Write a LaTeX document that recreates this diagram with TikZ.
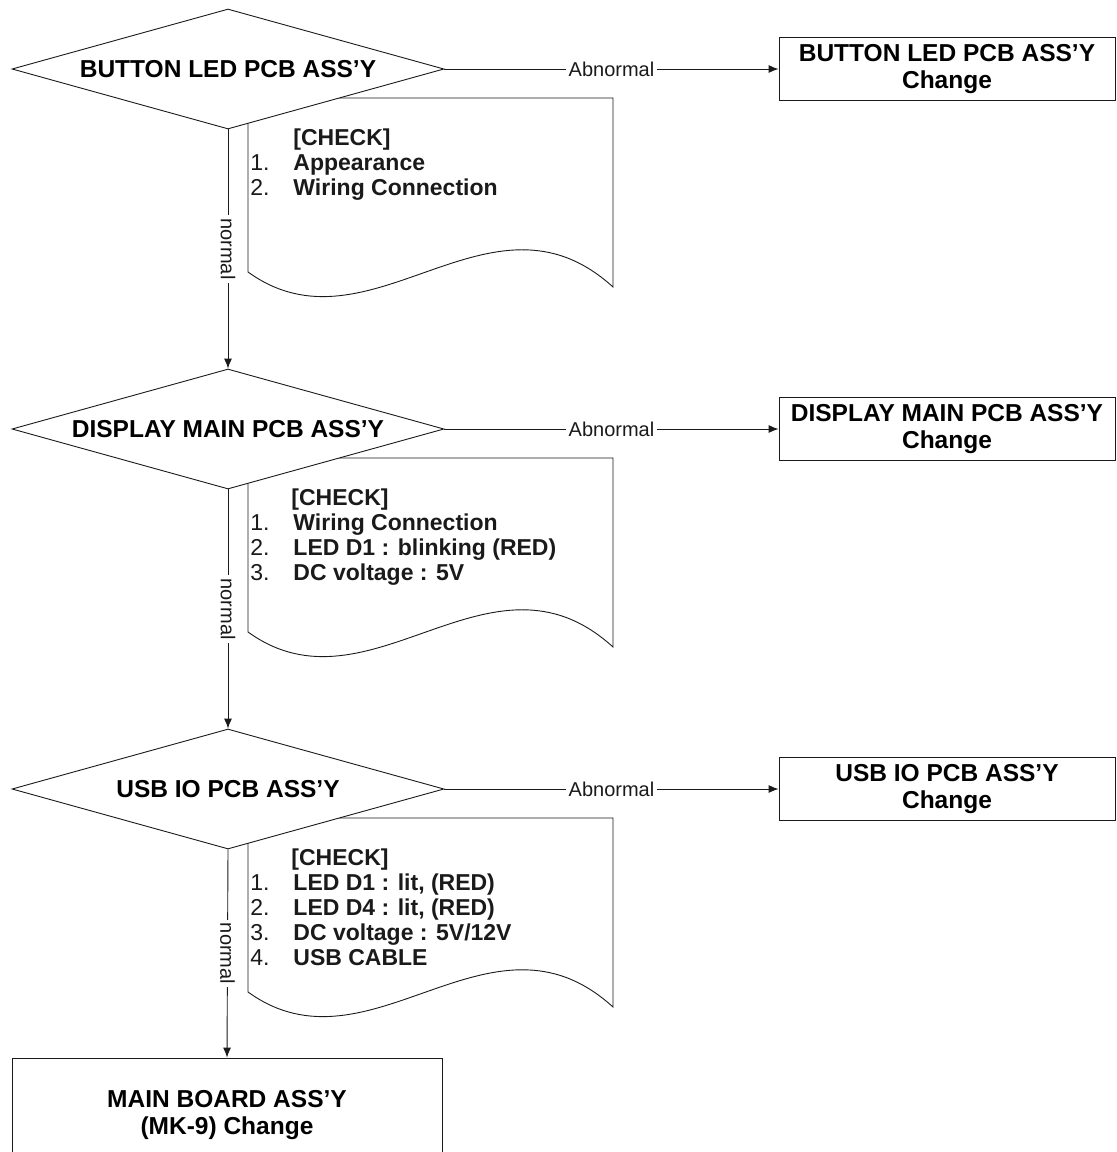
\documentclass[tikz,border=0pt]{standalone}
\usepackage{fontspec}
\setmainfont{Liberation Sans}
\usetikzlibrary{shapes.geometric,arrows.meta}
\definecolor{ink}{HTML}{1A1A1A}
\newcommand{\chkno}[1]{\makebox[43pt][l]{#1}}

\begin{document}
\begin{tikzpicture}[x=1pt,y=-1pt,line width=0.9pt,
    testbox/.style={diamond,aspect=3.6,draw=ink,fill=white,minimum width=432pt,minimum height=120pt,inner sep=0pt,font=\fontsize{24.5}{28}\selectfont\bfseries},
    swapbox/.style={rectangle,draw=ink,fill=white,minimum width=336pt,minimum height=63pt,align=center,font=\fontsize{24.5}{27}\selectfont\bfseries},
    checklist/.style={anchor=north west,align=left,inner sep=0pt,text=ink,font=\fontsize{23}{25}\selectfont},
    flowlabel/.style={fill=white,inner sep=3pt,text=ink,font=\fontsize{20}{20}\selectfont},
    >={Latex[length=10pt,width=8pt]}]
        \useasboundingbox (0,0) rectangle (1117,1152);
        % check sheets
        \foreach \dy in {0,360,720}
          \draw[ink,fill=white] (248,98+\dy) -- (613,98+\dy) -- (613,287+\dy) .. controls (490,175+\dy) and (370,360+\dy) .. (248,272+\dy) -- cycle;
        % tests
        \node[testbox] (btn) at (228,69) {BUTTON LED PCB ASS'Y};
        \node[testbox] (disp) at (228,429) {DISPLAY MAIN PCB ASS'Y};
        \node[testbox] (usb) at (228,789) {USB IO PCB ASS'Y};
        % parts to change
        \node[swapbox] (btnchg) at (947,69) {BUTTON LED PCB ASS'Y\\Change};
        \node[swapbox] (dispchg) at (947,429) {DISPLAY MAIN PCB ASS'Y\\Change};
        \node[swapbox] (usbchg) at (947,789) {USB IO PCB ASS'Y\\Change};
        \node[swapbox,minimum width=430pt,minimum height=114pt] (mainchg) at (227,1115) {MAIN BOARD ASS'Y\\(MK-9) Change};
        % check items
        \node[checklist] (chk1) at (250,128) {\hspace*{43pt}\textbf{[CHECK]}\\
          \chkno{1.}\textbf{Appearance}\\
          \chkno{2.}\textbf{Wiring Connection}};
        \node[checklist] (chk2) at (250,488) {\hspace*{41pt}\textbf{[CHECK]}\\
          \chkno{1.}\textbf{Wiring Connection}\\
          \chkno{2.}\textbf{LED D1 : blinking (RED)}\\
          \chkno{3.}\textbf{DC voltage : 5V}};
        \node[checklist] (chk3) at (250,848) {\hspace*{41pt}\textbf{[CHECK]}\\
          \chkno{1.}\textbf{LED D1 : lit, (RED)}\\
          \chkno{2.}\textbf{LED D4 : lit, (RED)}\\
          \chkno{3.}\textbf{DC voltage : 5V/12V}\\
          \chkno{4.}\textbf{USB CABLE}};
        % flow
        \draw[->,ink] (btn.east) -- node[flowlabel] {Abnormal} (btnchg.west);
        \draw[->,ink] (disp.east) -- node[flowlabel] {Abnormal} (dispchg.west);
        \draw[->,ink] (usb.east) -- node[flowlabel] {Abnormal} (usbchg.west);
        \draw[->,ink] (btn.south) -- node[flowlabel,rotate=-90] {normal} (disp.north);
        \draw[->,ink] (disp.south) -- node[flowlabel,rotate=-90] {normal} (usb.north);
        \draw[->,ink] (usb.south) -- node[flowlabel,rotate=-90] {normal} (mainchg.north);
\end{tikzpicture}
\end{document}
